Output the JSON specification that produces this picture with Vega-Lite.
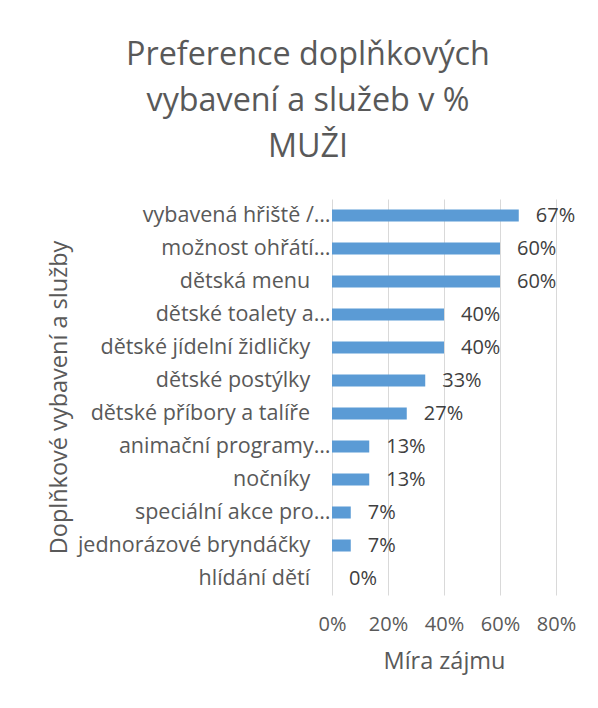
{
  "$schema": "https://vega.github.io/schema/vega-lite/v6.json",
  "width": 224,
  "height": 396,
  "autosize": {"type": "none"},
  "padding": {"left": 332, "top": 199, "right": 42, "bottom": 113},
  "background": "white",
  "title": {
    "text": ["Preference doplňkových", "vybavení a služeb v %", "MUŽI"],
    "anchor": "middle",
    "frame": "group",
    "dx": -136,
    "offset": 36,
    "fontSize": 32.3,
    "lineHeight": 46,
    "font": "Open Sans",
    "fontWeight": "normal",
    "color": "#595959"
  },
  "data": {
    "values": [
      {"sluzba": "vybavená hřiště /…", "podil": 0.667},
      {"sluzba": "možnost ohřátí…", "podil": 0.6},
      {"sluzba": "dětská menu", "podil": 0.6},
      {"sluzba": "dětské toalety a…", "podil": 0.4},
      {"sluzba": "dětské jídelní židličky", "podil": 0.4},
      {"sluzba": "dětské postýlky", "podil": 0.333},
      {"sluzba": "dětské příbory a talíře", "podil": 0.267},
      {"sluzba": "animační programy…", "podil": 0.133},
      {"sluzba": "nočníky", "podil": 0.133},
      {"sluzba": "speciální akce pro…", "podil": 0.067},
      {"sluzba": "jednorázové bryndáčky", "podil": 0.067},
      {"sluzba": "hlídání dětí", "podil": 0}
    ]
  },
  "encoding": {
    "y": {
      "field": "sluzba",
      "type": "nominal",
      "sort": null,
      "scale": {"paddingInner": 0.636, "paddingOuter": 0.318},
      "axis": {
        "title": "Doplňkové vybavení a služby",
        "domain": false,
        "ticks": false,
        "tickSize": 0,
        "labelPadding": 2,
        "labelFontSize": 21.5,
        "labelFont": "Open Sans",
        "labelColor": "#595959",
        "labelLimit": 400,
        "labelExpr": "datum.label == 'dětská menu' || datum.label == 'dětské jídelní židličky' || datum.label == 'dětské postýlky' || datum.label == 'dětské příbory a talíře' || datum.label == 'nočníky' || datum.label == 'jednorázové bryndáčky' || datum.label == 'hlídání dětí' ? datum.label + '\u00a0\u00a0\u00a0\u2009\u200b' : datum.label",
        "titleFontSize": 23.5,
        "titleFont": "Open Sans",
        "titleFontWeight": "normal",
        "titleColor": "#595959",
        "titleX": -266,
        "titleY": 198,
        "titleAngle": -90,
        "titleAlign": "center",
        "titleBaseline": "alphabetic"
      }
    }
  },
  "layer": [
    {
      "mark": {"type": "bar", "color": "#5B9BD5"},
      "encoding": {
        "x": {
          "field": "podil",
          "type": "quantitative",
          "scale": {"domain": [0, 0.8], "nice": false},
          "axis": {
            "title": "Míra zájmu",
            "format": ".0%",
            "values": [0, 0.2, 0.4, 0.6, 0.8],
            "labelOverlap": false,
            "labelFlush": false,
            "domain": false,
            "ticks": false,
            "tickSize": 0,
            "grid": true,
            "gridColor": "#D9D9D9",
            "gridWidth": 1,
            "labelPadding": 19,
            "labelFontSize": 20,
            "labelFont": "Open Sans",
            "labelColor": "#595959",
            "titleFontSize": 23.5,
            "titleFont": "Open Sans",
            "titleFontWeight": "normal",
            "titleColor": "#595959",
            "titlePadding": 15
          }
        }
      }
    },
    {
      "mark": {"type": "text", "align": "left", "baseline": "middle", "dx": 17, "fontSize": 20, "font": "Open Sans", "color": "#404040"},
      "encoding": {
        "x": {"field": "podil", "type": "quantitative"},
        "text": {"field": "podil", "type": "quantitative", "format": ".0%"}
      }
    }
  ],
  "config": {
    "view": {"stroke": null}
  }
}
